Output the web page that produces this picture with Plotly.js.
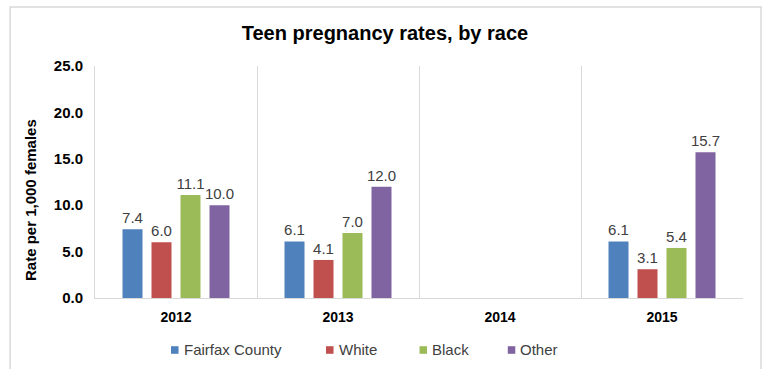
<!DOCTYPE html>
<html>
<head>
<meta charset="utf-8">
<script src="https://cdn.plot.ly/plotly-3.0.1.min.js"></script>
<style>html,body{margin:0;padding:0;background:#fff;}#chart{width:766px;height:369px;}</style>
</head>
<body>
<div id="chart"></div>
<script>
const years = ["2012", "2013", "2014", "2015"];
const seriesNames = ["Fairfax County", "White", "Black", "Other"];
const fairfax = [7.4, 6.1, null, 6.1];
const white = [6.0, 4.1, null, 3.1];
const black = [11.1, 7.0, null, 5.4];
const other = [10.0, 12.0, null, 15.7];
const colors = ["#4F81BD", "#C0504D", "#9BBB59", "#8064A2"];
const allValues = [fairfax, white, black, other];
const FONT = "Liberation Sans, Arial, sans-serif";

const traces = allValues.map((vals, i) => ({
  type: "bar",
  name: seriesNames[i],
  x: years,
  y: vals,
  marker: {color: colors[i]},
  text: vals.map(v => v == null ? "" : v.toFixed(1)),
  textposition: "outside",
  constraintext: "none",
  textfont: {family: FONT, size: 15, color: "#404040"},
  cliponaxis: false,
  hoverinfo: "skip",
  showlegend: false
}));

// manual legend (positions in paper coords)
const legendX = [0.1173, 0.3565, 0.5008, 0.6370];
const shapes = [{type: "rect", xref: "paper", yref: "paper", x0: -0.131, x1: 1.0278, y0: -0.5, y1: 1.254,
            line: {color: "#d9d9d9", width: 1.5}, fillcolor: "rgba(0,0,0,0)", layer: "below"}];
const annotations = [{
  text: "<b>Rate per 1,000 females</b>", xref: "paper", yref: "paper", x: -0.1003, y: 0.4224,
  textangle: -90, showarrow: false, xanchor: "center", yanchor: "middle",
  font: {family: FONT, size: 15, color: "#000"}
}];
seriesNames.forEach((n, i) => {
  shapes.push({type: "rect", xref: "paper", yref: "paper", x0: legendX[i], x1: legendX[i] + 0.0116,
               y0: -0.2405, y1: -0.2078, line: {width: 0}, fillcolor: colors[i]});
  annotations.push({text: n, xref: "paper", yref: "paper", x: legendX[i] + 0.0165, y: -0.2241,
                    xanchor: "left", yanchor: "middle", showarrow: false,
                    font: {family: FONT, size: 15, color: "#404040"}});
});

const layout = {
  width: 766, height: 369,
  margin: {l: 95, r: 23, t: 66, b: 71},
  paper_bgcolor: "#fff", plot_bgcolor: "#fff",
  font: {family: FONT, color: "#000"},
  title: {text: "<b>Teen pregnancy rates, by race</b>", x: 0.5026, xanchor: "center", y: 0.91, yanchor: "middle",
          font: {size: 20, color: "#000"}},
  barmode: "group",
  bargap: 0.284,
  bargroupgap: 0.31,
  showlegend: false,
  xaxis: {
    type: "category", tickson: "boundaries", showgrid: true, gridcolor: "#d9d9d9", gridwidth: 1,
    showline: true, linecolor: "#d9d9d9", ticks: "", ticklen: 0, ticklabelstandoff: 6,
    tickfont: {size: 14, color: "#000", family: FONT, weight: "bold"},
    fixedrange: true
  },
  yaxis: {
    range: [0, 25], dtick: 5, tickformat: ".1f", showgrid: false, zeroline: false,
    showline: true, linecolor: "#d9d9d9", ticks: "", ticklen: 0, ticklabelstandoff: 8,
    tickfont: {size: 15, color: "#000", family: FONT, weight: "bold"},
    fixedrange: true
  },
  shapes: shapes,
  annotations: annotations
};

Plotly.newPlot("chart", traces, layout, {displayModeBar: false, staticPlot: true});
</script>
</body>
</html>
